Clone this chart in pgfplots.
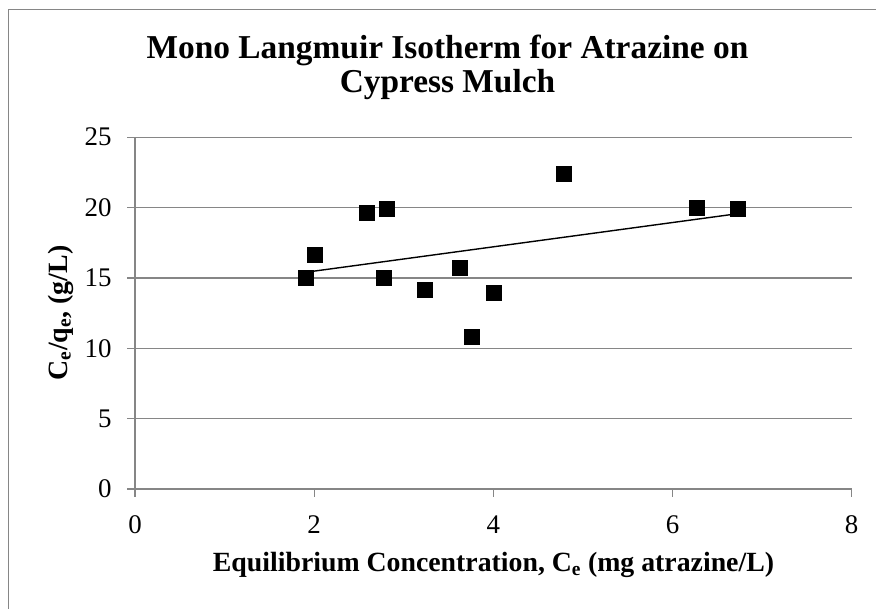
\documentclass[border=0pt]{standalone}
\usepackage{fontspec}
\setmainfont{Liberation Serif}
\usepackage{pgfplots}
\pgfplotsset{compat=1.18}
\definecolor{axgray}{HTML}{868686}
\begin{document}
\begin{tikzpicture}[x=1bp,y=1bp]
\begin{axis}[
  scale only axis,
  width=716.7bp, height=351.8bp,
  at={(135bp,120bp)}, anchor=south west,
  xmin=0, xmax=8, ymin=0, ymax=25,
  xtick={0,2,4,6,8}, ytick={0,5,10,15,20,25},
  axis lines*=left,
  axis line style={axgray, line width=1.3bp},
  ymajorgrids,
  grid style={axgray, line width=1.3bp},
  tick align=outside,
  major tick length=8bp,
  tick style={axgray, line width=1.3bp},
  /pgf/number format/assume math mode=true,
  ticklabel style={font=\fontsize{27}{32}\selectfont, text=black},
  yticklabel style={xshift=-12bp},
  xticklabel style={yshift=-15bp},
]
\addplot[only marks, mark=square*, mark size=7.5bp, black] coordinates {
  (1.904,15.05) (2.004,16.68) (2.591,19.60) (2.814,19.95) (2.774,14.98)
  (3.231,14.15) (3.629,15.76) (3.762,10.83) (4.004,13.93) (4.785,22.40)
  (6.272,19.96) (6.723,19.92)
};
\addplot[black, line width=1.4bp] coordinates {(1.904,15.40) (6.723,19.56)};
\end{axis}
\node[anchor=base, font=\fontsize{33.5}{36}\selectfont\bfseries] at (447.5,550) {Mono Langmuir Isotherm for Atrazine on};
\node[anchor=base, font=\fontsize{33.5}{36}\selectfont\bfseries] at (447.5,516) {Cypress Mulch};
\node[anchor=base, font=\fontsize{27.9}{32}\selectfont\bfseries] at (493.5,37) {Equilibrium Concentration, C\textsubscript{e} (mg atrazine/L)};
\node[anchor=base, rotate=90, font=\fontsize{28}{32}\selectfont\bfseries] at (67,296) {C\textsubscript{e}/q\textsubscript{e}, (g/L)};
\draw[axgray, line width=1.5bp] (8.5,0) -- (8.5,599.5) -- (876,599.5);
\pgfresetboundingbox
\useasboundingbox (0,0) rectangle (876,609);
\end{tikzpicture}
\end{document}
